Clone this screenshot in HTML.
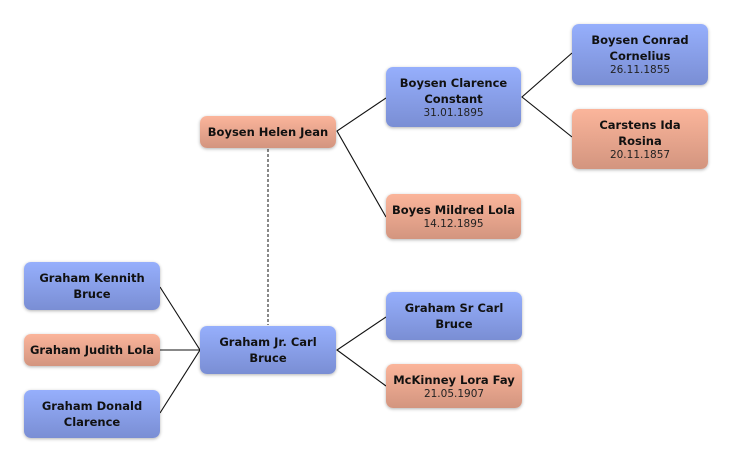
<!DOCTYPE html>
<html><head><style>
body{margin:0;width:732px;height:462px;background:#fff;position:relative;overflow:hidden;font-family:"DejaVu Sans","Liberation Sans",sans-serif;}
.b{position:absolute;border-radius:7px;box-shadow:0 1px 3px rgba(0,0,0,.3);display:flex;flex-direction:column;justify-content:center;align-items:center;text-align:center;color:#111;font-weight:bold;font-size:11.5px;line-height:16px;box-sizing:border-box;}
.m{background:linear-gradient(#96affc,#7a8ed4);}
.f{background:linear-gradient(#fbb59b,#d3957f);}
.d{font-weight:normal;font-size:10.5px;line-height:13px;color:#222;}
svg{position:absolute;left:0;top:0;}
</style></head><body>
<svg width="732" height="462">
<g stroke="#111" stroke-width="1.1" fill="none">
<polyline points="386,98 337,131 386,217"/>
<polyline points="572,53 522,97 572,137"/>
<polyline points="386,317 337,350 386,386"/>
<polyline points="160,287 200,350 160,413"/>
<line x1="160" y1="350" x2="200" y2="350"/>
</g>
<line x1="268" y1="149" x2="268" y2="325" stroke="#888" stroke-width="2" stroke-dasharray="3,2"/>
</svg>
<div class="b f" style="left:200px;top:116px;width:136px;height:32px">Boysen Helen Jean</div>
<div class="b m" style="left:386px;top:67px;width:135px;height:60px">Boysen Clarence<br>Constant<span class="d">31.01.1895</span></div>
<div class="b f" style="left:386px;top:194px;width:135px;height:45px">Boyes Mildred Lola<span class="d">14.12.1895</span></div>
<div class="b m" style="left:572px;top:24px;width:136px;height:61px">Boysen Conrad<br>Cornelius<span class="d">26.11.1855</span></div>
<div class="b f" style="left:572px;top:109px;width:136px;height:60px">Carstens Ida<br>Rosina<span class="d">20.11.1857</span></div>
<div class="b m" style="left:24px;top:262px;width:136px;height:48px">Graham Kennith<br>Bruce</div>
<div class="b f" style="left:24px;top:334px;width:136px;height:32px">Graham Judith Lola</div>
<div class="b m" style="left:24px;top:390px;width:136px;height:48px">Graham Donald<br>Clarence</div>
<div class="b m" style="left:200px;top:326px;width:136px;height:48px">Graham Jr. Carl<br>Bruce</div>
<div class="b m" style="left:386px;top:292px;width:136px;height:48px">Graham Sr Carl<br>Bruce</div>
<div class="b f" style="left:386px;top:364px;width:136px;height:44px">McKinney Lora Fay<span class="d">21.05.1907</span></div>
</body></html>
